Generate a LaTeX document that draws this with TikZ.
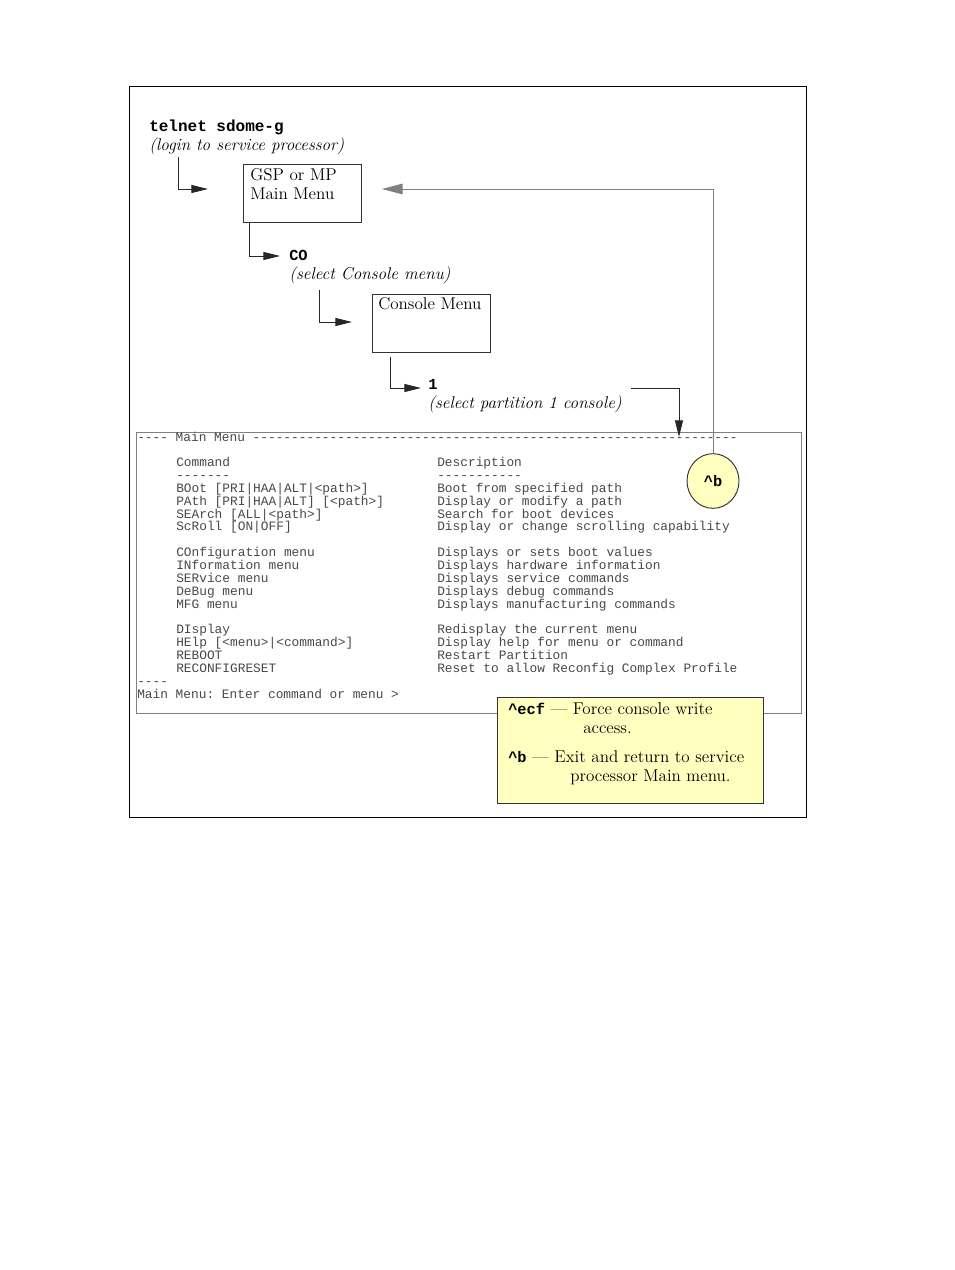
\documentclass[tikz,border=0pt]{standalone}
\usepackage{fontspec}
\setmonofont{Liberation Mono}
\usetikzlibrary{arrows.meta,shapes.geometric}
\definecolor{notefill}{HTML}{FFFFC0}
\definecolor{frameg}{HTML}{808080}
\definecolor{contxt}{HTML}{484848}
\begin{document}
\begin{tikzpicture}[x=0.75pt,y=-0.75pt,
  conn/.style={draw=black!85,line width=0.65pt,-{Triangle[length=12.5pt,width=6pt]}},
  gconn/.style={draw=frameg,line width=0.65pt,-{Triangle[length=15.5pt,width=8pt,fill=frameg]}},
  menubox/.style={draw=black!80,line width=0.7pt,minimum width=88.5pt,minimum height=43.5pt,inner sep=0pt},
  lbl/.style={anchor=base west,inner sep=0pt,font=\fontsize{12.8}{15}\selectfont},
  ilbl/.style={lbl,font=\fontsize{12.8}{15}\selectfont\itshape},
  cmd/.style={anchor=base west,inner sep=0pt,font=\fontsize{12}{14.4}\selectfont\ttfamily\bfseries},
  mono/.style={anchor=base west,inner sep=0pt,text=contxt,font=\fontsize{9.62}{9.64}\selectfont\ttfamily}
]
\fill[white] (0,0) rectangle (954,1270);
\useasboundingbox (0,0) rectangle (954,1270);

% outer frame
\node[draw=black,line width=0.7pt,minimum width=507.75pt,minimum height=548.25pt,inner sep=0pt] (frame) at (467.5,451.5) {};

% telnet
\node[cmd] (telnet) at (149,131) {telnet sdome-g};
\node[ilbl] (login) at (149,150) {(login to service processor)};

% GSP box
\node[menubox] (gsp) at (302,193) {};
\node[lbl] (gsp1) at (250,180) {GSP or MP};
\node[lbl] (gsp2) at (250,199) {Main Menu};

% CO
\node[cmd,font=\fontsize{11.5}{14}\selectfont\ttfamily\bfseries] (co) at (289,260) {CO};
\node[ilbl] (coex) at (289,279) {(select Console menu)};

% Console menu box
\node[menubox] (cons) at (431,323) {};
\node[lbl] (cons1) at (378,309) {Console Menu};

% 1
\node[cmd,font=\fontsize{11.5}{14}\selectfont\ttfamily\bfseries] (one) at (428,389) {1};
\node[ilbl] (oneex) at (428,408) {(select partition 1 console)};

% console screen frame
\node[draw=frameg,line width=0.7pt,minimum width=498.75pt,minimum height=210.75pt,inner sep=0pt] (screen) at (468.5,572.5) {};

% screen text
\node[mono] (hdr) at (137,441) {---- Main Menu ---------------------------------------------------------------};
\foreach \k/\c/\d in {
  2/{Command}/{Description},
  3/{-------}/{-----------},
  4/{BOot [PRI|HAA|ALT|<path>]}/{Boot from specified path},
  5/{PAth [PRI|HAA|ALT] [<path>]}/{Display or modify a path},
  6/{SEArch [ALL|<path>]}/{Search for boot devices},
  7/{ScRoll [ON|OFF]}/{Display or change scrolling capability},
  9/{COnfiguration menu}/{Displays or sets boot values},
  10/{INformation menu}/{Displays hardware information},
  11/{SERvice menu}/{Displays service commands},
  12/{DeBug menu}/{Displays debug commands},
  13/{MFG menu}/{Displays manufacturing commands},
  15/{DIsplay}/{Redisplay the current menu},
  16/{HElp [<menu>|<command>]}/{Display help for menu or command},
  17/{REBOOT}/{Restart Partition},
  18/{RECONFIGRESET}/{Reset to allow Reconfig Complex Profile}}{
  \node[mono] (c\k) at (176,{441+12.85*\k}) {\c};
  \node[mono] (d\k) at (437,{441+12.85*\k}) {\d};
}
\node[mono] (ftr1) at (137,{441+12.85*19}) {----};
\node[mono] (ftr2) at (137,{441+12.85*20}) {Main Menu: Enter command or menu >};

% ^b circle
\node[draw=black!80,line width=0.7pt,fill=notefill,ellipse,minimum width=39pt,minimum height=41pt,inner sep=0pt,font=\fontsize{11.5}{14}\selectfont\ttfamily\bfseries] (bc) at (713,481) {\textasciicircum b};

% note box
\node[draw=black!80,line width=0.7pt,fill=notefill,minimum width=199.5pt,minimum height=79.5pt,inner sep=0pt] (note) at (630,750) {};
\node[lbl] (n1) at (508,714) {\texttt{\bfseries\fontsize{11.5}{14}\selectfont\textasciicircum ecf} — Force console write};
\node[lbl] (n2) at (583,733) {access.};
\node[lbl] (n3) at (508,762) {\texttt{\bfseries\fontsize{11.5}{14}\selectfont\textasciicircum b} — Exit and return to service};
\node[lbl] (n4) at (570,781) {processor Main menu.};

% connectors
\coordinate (a1s) at (178,157);
\coordinate (a1e) at (208,189);
\draw[conn] (a1s) |- (a1e);
\coordinate (a2s) at (249,222);
\coordinate (a2e) at (280,256);
\draw[conn] (a2s) |- (a2e);
\coordinate (a3s) at (319,290);
\coordinate (a3e) at (352,322);
\draw[conn] (a3s) |- (a3e);
\coordinate (a4s) at (390,357);
\coordinate (a4e) at (421,388);
\draw[conn] (a4s) |- (a4e);
\coordinate (a5s) at (631,388);
\coordinate (a5e) at (679,437);
\draw[conn] (a5s) -| (a5e);
\coordinate (gtip) at (382,189);
\draw[gconn] (bc.north) |- (gtip);
\end{tikzpicture}
\end{document}
